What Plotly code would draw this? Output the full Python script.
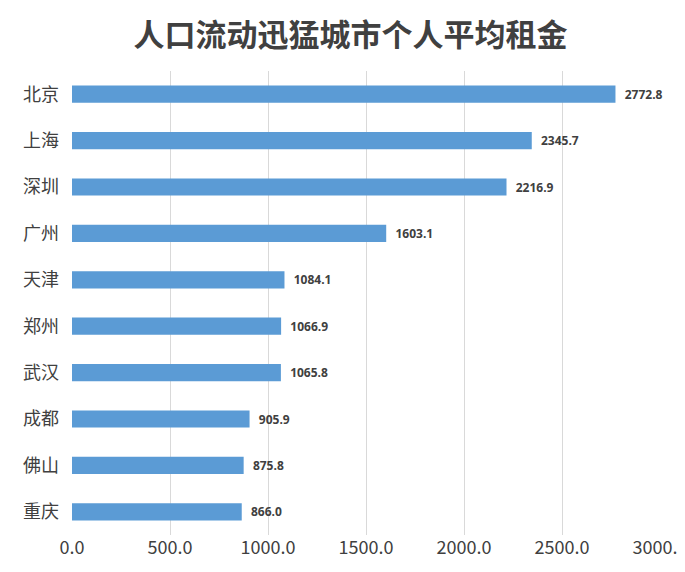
# 人口流动迅猛城市个人平均租金 条形图
import plotly.graph_objects as go

cities = ['北京', '上海', '深圳', '广州', '天津', '郑州', '武汉', '成都', '佛山', '重庆']
rents = [2772.8, 2345.7, 2216.9, 1603.1, 1084.1, 1066.9, 1065.8, 905.9, 875.8, 866.0]
tick_vals = [0, 500, 1000, 1500, 2000, 2500, 3000]

font_cn = 'Noto Sans CJK SC'

fig = go.Figure()
fig.add_trace(go.Bar(
    y=cities,
    x=rents,
    orientation='h',
    marker=dict(color='#5B9BD5', line=dict(width=0)),
    width=0.37,
    text=[f'  {v:.1f}' for v in rents],
    textposition='outside',
    textfont=dict(family='Open Sans', size=12, color='#404040', weight='bold'),
    cliponaxis=False,
))

fig.update_layout(
    width=685, height=572,
    margin=dict(l=64, r=33, t=63, b=45),
    paper_bgcolor='white', plot_bgcolor='white',
    title=dict(text='<b>人口流动迅猛城市个人平均租金</b>', x=0.5, xanchor='center',
               y=0.952, yanchor='middle',
               font=dict(family=font_cn, size=31, color='#404040')),
    xaxis=dict(range=[0, 3000], tickvals=tick_vals, automargin=False,
               ticktext=[f'{v:.1f}' for v in tick_vals],
               showgrid=True, gridcolor='#D9D9D9', zeroline=False,
               tickfont=dict(family=font_cn, size=18, color='#404040')),
    yaxis=dict(autorange='reversed', showgrid=False, automargin=False,
               ticklabelstandoff=12,
               tickfont=dict(family=font_cn, size=18, color='#404040')),
    showlegend=False,
)

fig.write_html('out.html')
